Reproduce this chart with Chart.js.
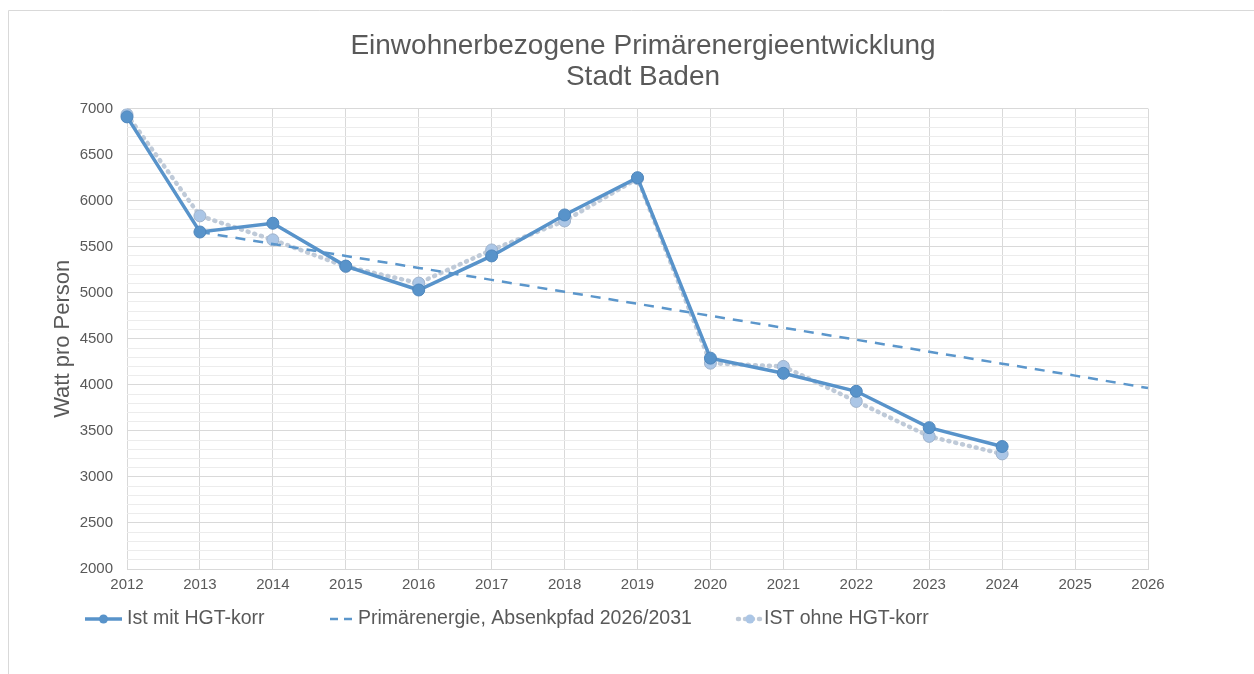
<!DOCTYPE html>
<html>
<head>
<meta charset="utf-8">
<script src="https://cdn.jsdelivr.net/npm/chart.js@4.4.1/dist/chart.umd.min.js"></script>
<style>
  html, body { margin: 0; padding: 0; background: #fff; }
  #wrap { width: 1254px; height: 674px; position: relative; }
</style>
</head>
<body>
<div id="wrap"><canvas id="energyChart" width="1254" height="674"></canvas></div>
<script>
// values
const years = ['2012', '2013', '2014', '2015', '2016', '2017', '2018', '2019', '2020', '2021', '2022', '2023', '2024', '2025', '2026'];
const istMitHgt = [6910, 5660, 5755, 5290, 5030, 5400, 5845, 6250, 4290, 4125, 3930, 3535, 3330, null, null];
const absenkpfad = [null, 5660, 5530, 5400, 5270, 5140, 5010, 4880, 4750, 4620, 4490, 4360, 4230, 4100, 3965];
const istOhneHgt = [6935, 5835, 5575, 5285, 5105, 5465, 5780, 6240, 4235, 4200, 3820, 3440, 3250, null, null];
const seriesNames = ['Ist mit HGT-korr', 'Primärenergie, Absenkpfad 2026/2031', 'IST ohne HGT-korr'];

const textColor = '#595959';
const fontFamily = '"Liberation Sans", Arial, sans-serif';

// legend placement like the original (sample start, sample width, text start)
const legendSlots = [[85, 37, 127], [330, 22, 358], [738, 24, 764]];

// frame and legend, drawn by hand so the legend samples look like the original
const framePlugin = {
    id: 'frame',
    beforeDraw(chart) {
        const ctx = chart.ctx;
        ctx.save();
        ctx.strokeStyle = '#d9d9d9';
        ctx.lineWidth = 1;
        ctx.beginPath();
        ctx.moveTo(8.5, 674);
        ctx.lineTo(8.5, 10.5);
        ctx.lineTo(1254, 10.5);
        ctx.stroke();
        ctx.restore();
    },
    afterDraw(chart) {
        const ctx = chart.ctx;
        const y = 619;
        ctx.save();
        ctx.font = '19.5px ' + fontFamily;
        ctx.textBaseline = 'middle';
        chart.data.datasets.forEach(function(ds, i) {
            const slot = legendSlots[i];
            ctx.save();
            ctx.strokeStyle = ds.borderColor;
            ctx.lineWidth = ds.borderWidth;
            ctx.lineCap = ds.borderCapStyle || 'butt';
            ctx.setLineDash(i === 1 ? [8, 6] : (ds.borderDash || []));
            ctx.beginPath();
            ctx.moveTo(slot[0], y);
            ctx.lineTo(slot[0] + slot[1], y);
            ctx.stroke();
            ctx.setLineDash([]);
            if (ds.pointRadius > 0) {
                ctx.fillStyle = ds.pointBackgroundColor;
                ctx.beginPath();
                ctx.arc(slot[0] + slot[1] / 2, y, 4.5, 0, Math.PI * 2);
                ctx.fill();
            }
            ctx.restore();
            ctx.fillStyle = textColor;
            ctx.fillText(ds.label, slot[2], y);
        });
        ctx.restore();
    }
};

const ctx = document.getElementById('energyChart').getContext('2d');
const chart = new Chart(ctx, {
    type: 'line',
    data: {
        labels: years,
        datasets: [{
            label: seriesNames[0],
            data: istMitHgt,
            borderColor: '#5893ca',
            backgroundColor: '#5893ca',
            pointBackgroundColor: '#5893ca',
            pointBorderColor: '#4f87bd',
            borderWidth: 3.5,
            pointRadius: 6,
            pointBorderWidth: 1
        }, {
            label: seriesNames[1],
            data: absenkpfad,
            borderColor: '#5b96cb',
            backgroundColor: '#5b96cb',
            borderWidth: 2.5,
            borderDash: [10, 8],
            pointRadius: 0
        }, {
            label: seriesNames[2],
            data: istOhneHgt,
            borderColor: '#bfcad8',
            backgroundColor: '#abc6e6',
            pointBackgroundColor: '#abc6e6',
            pointBorderColor: '#9fb3cc',
            borderWidth: 4.5,
            borderDash: [1, 6],
            borderCapStyle: 'round',
            pointRadius: 6,
            pointBorderWidth: 1
        }]
    },
    options: {
        responsive: false,
        animation: false,
        layout: {
            padding: { left: 32, right: 0, top: 0, bottom: 73 }
        },
        plugins: {
            legend: { display: false },
            tooltip: { enabled: false },
            title: {
                display: true,
                text: ['Einwohnerbezogene Primärenergieentwicklung', 'Stadt Baden'],
                color: textColor,
                font: { family: fontFamily, size: 28, weight: 'normal', lineHeight: 1.1 },
                padding: { top: 31, bottom: 16 }
            }
        },
        scales: {
            x: {
                offset: false,
                grid: { color: '#d9d9d9', drawTicks: false },
                border: { color: '#d9d9d9' },
                ticks: {
                    color: textColor,
                    font: { family: fontFamily, size: 15 },
                    padding: 7,
                    maxRotation: 0,
                    autoSkip: false
                }
            },
            y: {
                min: 2000,
                max: 7000,
                afterFit: function(scale) { scale.width = 95; },
                grid: {
                    drawTicks: false,
                    color: function(c) {
                        return c.tick && c.tick.value % 500 === 0 ? '#d9d9d9' : '#ececec';
                    }
                },
                border: { display: false },
                ticks: {
                    stepSize: 100,
                    autoSkip: false,
                    color: textColor,
                    font: { family: fontFamily, size: 15 },
                    padding: 14,
                    callback: function(value) {
                        return value % 500 === 0 ? String(value) : '';
                    }
                },
                title: {
                    display: true,
                    text: 'Watt pro Person',
                    color: textColor,
                    font: { family: fontFamily, size: 22 },
                    padding: { top: 18, bottom: 2 }
                }
            },
            // empty right axis, only there to keep the plot clear of the right edge
            yRight: {
                position: 'right',
                min: 2000,
                max: 7000,
                afterFit: function(scale) { scale.width = 106; },
                grid: { display: false },
                border: { display: false },
                ticks: { display: false }
            }
        }
    },
    plugins: [framePlugin]
});
</script>
</body>
</html>
